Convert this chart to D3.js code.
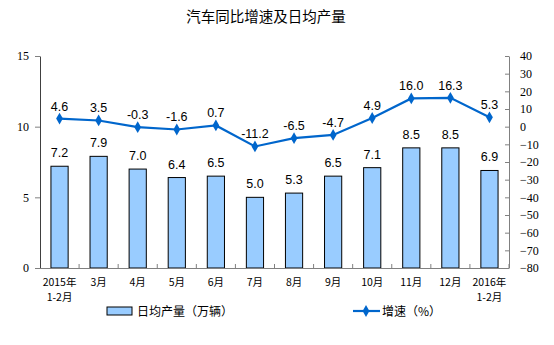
<!DOCTYPE html>
<html><head><meta charset="utf-8">
<script src="https://cdn.jsdelivr.net/npm/d3@7/dist/d3.min.js"></script>
<style>body{margin:0;background:#fff}svg{display:block}</style>
</head><body>
<svg id="c" width="554" height="345"></svg>
<script>
const categories = ["2015年|1-2月","3月","4月","5月","6月","7月","8月","9月","10月","11月","12月","2016年|1-2月"];
const dailyOutput = [7.2,7.9,7.0,6.4,6.5,5.0,5.3,6.5,7.1,8.5,8.5,6.9];
const growth = [4.6,3.5,-0.3,-1.6,0.7,-11.2,-6.5,-4.7,4.9,16.0,16.3,5.3];
const leftTicks = [0,5,10,15];
const rightTicks = [40,30,20,10,0,-10,-20,-30,-40,-50,-60,-70,-80];
const title = "汽车同比增速及日均产量";
const legendBar = "日均产量（万辆）";
const legendLine = "增速（%）";

const svg = d3.select("#c");
const L = 40, R = 509, T = 56, B = 268;
const x = d3.scaleBand().domain(categories).range([L, R]).paddingInner(0.56).paddingOuter(0.28);
const yL = d3.scaleLinear().domain([0,15]).range([B,T]);
const yR = d3.scaleLinear().domain([-80,40]).range([B,T]);
const blue = "#0066CC";
const cjk = "'Noto Sans CJK SC', sans-serif";
const serif = "'Liberation Serif','DejaVu Serif',serif";
const sans = "'Liberation Sans', Arial, sans-serif";

svg.append("text").attr("x",266).attr("y",22).attr("text-anchor","middle")
  .attr("font-family",cjk).attr("font-size",14.5).attr("fill","#000").text(title);

// bars
svg.selectAll("rect.bar").data(dailyOutput).enter().append("rect").attr("class","bar")
  .attr("x",(d,i)=>x(categories[i])).attr("width",x.bandwidth())
  .attr("y",d=>yL(d)).attr("height",d=>B-yL(d))
  .attr("fill","#99CCFF").attr("stroke","#000").attr("stroke-width",1);
svg.selectAll("text.bl").data(dailyOutput).enter().append("text").attr("class","bl")
  .attr("x",(d,i)=>x(categories[i])+x.bandwidth()/2).attr("y",d=>yL(d)-9)
  .attr("text-anchor","middle").attr("font-family",sans).attr("font-size",12.5).attr("fill","#000")
  .text(d=>d.toFixed(1));

// axes
const gl = svg.append("g").attr("transform",`translate(${L},0)`)
  .call(d3.axisLeft(yL).tickValues(leftTicks).tickSize(5).tickSizeOuter(0).tickPadding(6));
const gr = svg.append("g").attr("transform",`translate(${R},0)`)
  .call(d3.axisRight(yR).tickValues(rightTicks).tickSize(-4).tickSizeOuter(0).tickPadding(11));
[gl,gr].forEach(g=>{
  g.selectAll("path").attr("stroke","#808080");
  g.selectAll("line").attr("stroke","#808080");
  g.selectAll("text").attr("font-family",serif).attr("font-size",12).attr("fill","#000");
});
gl.select("path").attr("stroke","#404040");

// bottom axis
svg.append("line").attr("x1",L).attr("x2",R).attr("y1",B+0.5).attr("y2",B+0.5).attr("stroke","#808080");
const bounds = categories.map((c,i)=>x(c) - x.step()*x.paddingInner()/2).concat([R]);
svg.selectAll("line.xt").data(bounds.slice(1)).enter().append("line").attr("class","xt")
  .attr("x1",d=>d).attr("x2",d=>d).attr("y1",B).attr("y2",B-4).attr("stroke","#808080");
const xl = svg.selectAll("text.xl").data(categories).enter().append("text").attr("class","xl")
  .attr("x",c=>x(c)+x.bandwidth()/2).attr("y",286)
  .attr("text-anchor","middle").attr("font-family",cjk).attr("font-size",10.5).attr("fill","#000");
xl.each(function(c){
  const parts = c.split("|");
  const t = d3.select(this);
  parts.forEach((p,j)=>t.append("tspan").attr("x",t.attr("x")).attr("dy", j?15:0).text(p));
});

// line
const line = d3.line().x((d,i)=>x(categories[i])+x.bandwidth()/2).y(d=>yR(d));
svg.append("path").datum(growth).attr("d",line).attr("fill","none").attr("stroke",blue).attr("stroke-width",2.2);
const diamond = d3.symbol().type(d3.symbolDiamond).size(40);
svg.selectAll("path.mk").data(growth).enter().append("path").attr("class","mk")
  .attr("d",diamond).attr("transform",(d,i)=>`translate(${x(categories[i])+x.bandwidth()/2},${yR(d)})`)
  .attr("fill",blue);
svg.selectAll("text.ll").data(growth).enter().append("text").attr("class","ll")
  .attr("x",(d,i)=>x(categories[i])+x.bandwidth()/2).attr("y",d=>yR(d)-8)
  .attr("text-anchor","middle").attr("font-family",sans).attr("font-size",12.5).attr("fill","#000")
  .text(d=>d.toFixed(1));

// legend
svg.append("rect").attr("x",107).attr("y",307).attr("width",25).attr("height",8)
  .attr("fill","#99CCFF").attr("stroke","#000");
svg.append("text").attr("x",137).attr("y",315.5).attr("font-family",cjk).attr("font-size",12).attr("fill","#000").text(legendBar);
svg.append("line").attr("x1",353).attr("x2",380).attr("y1",311).attr("y2",311).attr("stroke",blue).attr("stroke-width",2.2);
svg.append("path").attr("d",diamond).attr("transform","translate(366,311)").attr("fill",blue);
svg.append("text").attr("x",382).attr("y",315.5).attr("font-family",cjk).attr("font-size",12).attr("fill","#000").text(legendLine);
</script>
</body></html>
